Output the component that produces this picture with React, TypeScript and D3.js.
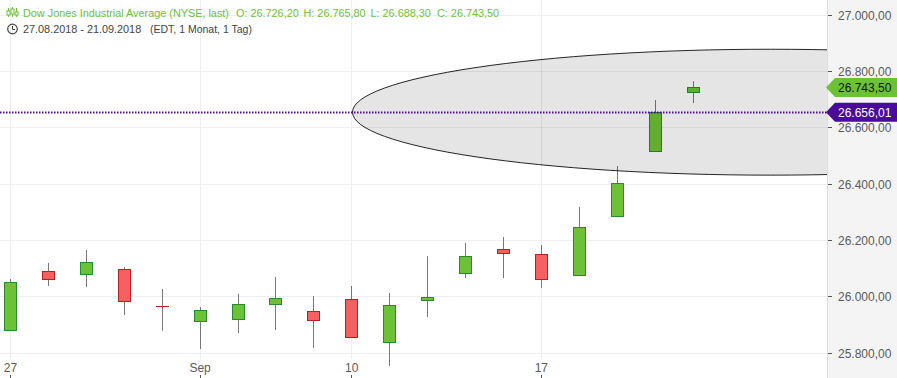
import React from "react";
import * as d3 from "d3";

const W = 897, H = 378, plotRight = 827;

const opens = [25880, 26091, 26080.5, 26098, 25965, 25914, 25919, 25974, 25949, 25992, 25839, 25987, 26084, 26169, 26151, 26075, 26284, 26518, 26726.2];
const highs = [26064, 26121, 26167, 26106, 26028, 25964, 26011, 26071, 26003, 26039, 26014, 26145, 26192, 26213, 26185, 26319, 26465, 26699, 26765.8];
const lows = [25880, 26039, 26035, 25936, 25880, 25815, 25872, 25883, 25819, 25857, 25755, 25929, 26067, 26067, 26032, 26075, 26284, 26518, 26688.3];
const closes = [26049.6, 26063, 26123, 25983, 25964.5, 25953, 25974, 25995, 25917, 25857, 25970, 25999, 26144, 26154, 26061, 26247, 26402, 26656, 26743.5];

const yTicks = [27000, 26800, 26600, 26400, 26200, 26000, 25800];
const xTickIdx = [0, 5, 9, 14];
const xTickLabels = ["27", "Sep", "10", "17"];

const lastClose = 26743.5;
const hLine = 26656.01;
const ellipseCenterIdx = 20.05;
const ellipseRadiusIdx = 11.03;
const ellipseCenterVal = 26656.01;
const ellipseRadiusVal = 223.5;

const titleMain = "Dow Jones Industrial Average (NYSE, last)";
const titleParts = ["O: 26.726,20", "H: 26.765,80", "L: 26.688,30", "C: 26.743,50"];
const titlePartX = [236, 303.5, 370.5, 437];
const subDate = "27.08.2018 - 21.09.2018";
const subInfo = "(EDT, 1 Monat, 1 Tag)";

const fmt = (v: number) => {
  const s = v.toFixed(2).replace(".", ",");
  return s.replace(/^(\d+)(\d{3}),/, "$1.$2,");
};

const x = d3.scaleLinear().domain([0, 18]).range([10.5, 693]);
const y = d3.scaleLinear().domain([27000, 25800]).range([15.3, 353.3]);
const snap = (v: number) => Math.round(v - 0.5) + 0.5;

const GREEN = "#6cc236", GREEN_S = "#278a2c", RED = "#f66060", RED_S = "#bb2020";
const GRID = "#eeeeee", TXT = "#5a5a5a";
const FONT = "'Liberation Sans', Arial, sans-serif";
const PURPLE = "#4a0a9c";

export default function App() {
  return (
    <svg width={W} height={H} style={{ position: "absolute", left: 0, top: 0, display: "block", background: "#fff" }} fontFamily={FONT}>
      <defs>
        <clipPath id="plot"><rect x={0} y={0} width={plotRight} height={H} /></clipPath>
      </defs>
      <rect x={plotRight} y={0} width={W - plotRight} height={H} fill="#f4f4f4" />
      <line x1={plotRight + 0.5} x2={plotRight + 0.5} y1={0} y2={H} stroke="#dddddd" />
      {yTicks.map((t) => (
        <g key={t}>
          <line x1={0} x2={plotRight} y1={snap(y(t))} y2={snap(y(t))} stroke={GRID} />
          <line x1={plotRight + 1} x2={plotRight + 5} y1={snap(y(t))} y2={snap(y(t))} stroke="#555" />
          <text x={838} y={y(t) + 4.5} fontSize={12} fill={TXT}>{fmt(t)}</text>
        </g>
      ))}
      {xTickIdx.map((i, k) => (
        <g key={i}>
          <line x1={snap(x(i))} x2={snap(x(i))} y1={0} y2={359} stroke={GRID} />
          <line x1={snap(x(i))} x2={snap(x(i))} y1={375} y2={H} stroke="#555" />
          <text x={x(i)} y={372} fontSize={12} fill={TXT} textAnchor="middle">{xTickLabels[k]}</text>
        </g>
      ))}
      <g>
        {opens.map((o, i) => {
          const c = closes[i];
          const up = c >= o;
          const cx = snap(x(i));
          const top = y(Math.max(o, c));
          const bot = y(Math.min(o, c));
          const yt = snap(top);
          const h = Math.max(Math.round(bot - top), 0);
          return (
            <g key={i}>
              <line x1={cx} x2={cx} y1={y(highs[i])} y2={y(lows[i])} stroke="#777777" />
              {h > 0 ? (
                <rect x={cx - 6} y={yt} width={12} height={h} fill={up ? GREEN : RED} stroke={up ? GREEN_S : RED_S} />
              ) : (
                <line x1={cx - 6.5} x2={cx + 6.5} y1={yt} y2={yt} stroke={RED_S} />
              )}
            </g>
          );
        })}
      </g>
      <g clipPath="url(#plot)">
        <ellipse
          cx={x(ellipseCenterIdx)}
          cy={y(ellipseCenterVal)}
          rx={x(ellipseRadiusIdx) - x(0)}
          ry={y(ellipseCenterVal - ellipseRadiusVal) - y(ellipseCenterVal)}
          fill="#000"
          fillOpacity={0.1}
          stroke="#000"
          strokeOpacity={0.85}
        />
        <line x1={0} x2={plotRight} y1={snap(y(hLine))} y2={snap(y(hLine))} stroke={PURPLE} strokeWidth={2} strokeDasharray="1.5 1.5" />
      </g>

      <path d={`M${plotRight - 1},${y(lastClose)} L${plotRight + 8},${y(lastClose) - 9.5} H${W} V${y(lastClose) + 9.5} H${plotRight + 8} Z`} fill={GREEN} />
      <text x={838} y={y(lastClose) + 4.5} fontSize={12} fill="#111">{fmt(lastClose)}</text>
      <path d={`M${plotRight - 1},${y(hLine)} L${plotRight + 8},${y(hLine) - 9.5} H${W} V${y(hLine) + 9.5} H${plotRight + 8} Z`} fill={PURPLE} />
      <text x={838} y={y(hLine) + 4.5} fontSize={12} fill="#fff">{fmt(hLine)}</text>

      <g stroke={GREEN} fill="none">
        <path d="M8.5,8V17 M12.5,7V17 M16.5,8V17" />
        <rect x={7} y={11} width={3} height={4} fill="#fff" />
        <rect x={11} y={9} width={3} height={5} fill="#fff" />
        <rect x={15} y={12} width={3} height={3} fill="#fff" />
      </g>
      <text x={23} y={17} fontSize={10.85} fill={GREEN}>{titleMain}</text>
      {titleParts.map((p, i) => (
        <text key={p} x={titlePartX[i]} y={17} fontSize={10.85} fill={GREEN}>{p}</text>
      ))}
      <circle cx={12.5} cy={29} r={4.8} fill="none" stroke="#444" strokeWidth={1.2} />
      <path d="M12.5,26V29.5H15" fill="none" stroke="#444" />
      <text x={23} y={33} fontSize={10.85} fill="#444">{subDate}</text>
      <text x={150} y={33} fontSize={10.5} fill="#444">{subInfo}</text>
    </svg>
  );
}
